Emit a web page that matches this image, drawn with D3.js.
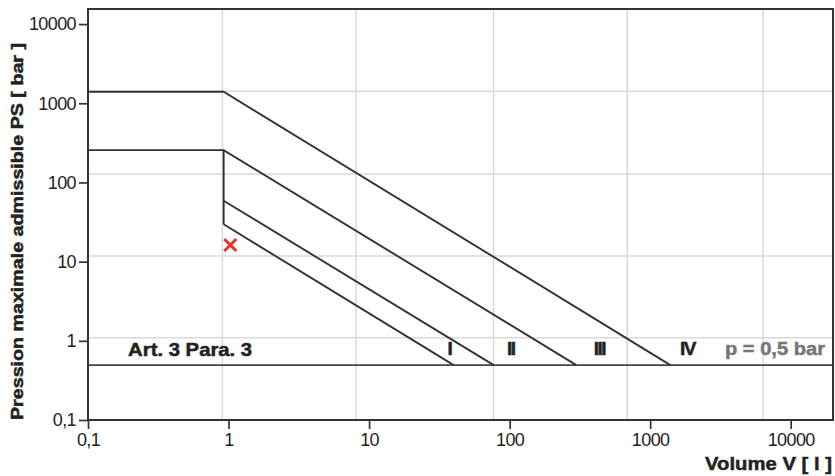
<!DOCTYPE html>
<html>
<head>
<meta charset="utf-8">
<script src="https://cdnjs.cloudflare.com/ajax/libs/d3/7.8.5/d3.min.js"></script>
<style>
  body { margin: 0; background: #fff; }
  svg { display: block; font-family: "Liberation Sans", Arial, sans-serif; }
</style>
</head>
<body>
<svg id="chart"></svg>
<script>
const WIDTH = 835;
const HEIGHT = 476;
const margin = { top: 9, right: 2, bottom: 56, left: 88 };

// tick labels
const xTicks = [0.1, 1, 10, 100, 1000, 10000];
const yTicks = [0.1, 1, 10, 100, 1000, 10000];

// grid lines (they do not sit on the ticks)
const xGrid = [0.904, 8.07, 76.9, 686, 6350];
const yGrid = [1.09, 11.8, 127.6, 1420];

// category limit lines, [volume, pressure] pairs
const lineIV = [[0.1, 1396], [0.923, 1396], [1393, 0.494]];
const lineIII = [[0.1, 256], [0.923, 256], [298.5, 0.494]];
const lineV1 = [[0.923, 256], [0.923, 29.6]];
const lineII = [[0.923, 58.8], [77.1, 0.494]];
const lineI = [[0.923, 29.6], [40, 0.494]];
const pLine = 0.494;

// category labels and their volume position
const catNames = ['I', 'II', 'III', 'IV'];
const catVolumes = [37.3, 102, 436, 1846];

// the red cross
const marker = [1.03, 16.2];

const svg = d3.select('#chart')
    .attr('width', WIDTH)
    .attr('height', HEIGHT);

const x = d3.scaleLog()
    .domain([0.1, 20000])
    .range([margin.left, WIDTH - margin.right]);
const y = d3.scaleLog()
    .domain([0.1, 15500])
    .range([HEIGHT - margin.bottom, margin.top]);

// grid
svg.append('g').selectAll('line')
    .data(xGrid)
    .enter().append('line')
    .attr('x1', d => x(d)).attr('x2', d => x(d))
    .attr('y1', y.range()[0]).attr('y2', y.range()[1])
    .attr('stroke', '#d9d9d9').attr('stroke-width', 1.5);
svg.append('g').selectAll('line')
    .data(yGrid)
    .enter().append('line')
    .attr('x1', x.range()[0]).attr('x2', x.range()[1])
    .attr('y1', d => y(d)).attr('y2', d => y(d))
    .attr('stroke', '#d9d9d9').attr('stroke-width', 1.5);

// p = 0,5 bar line
svg.append('line')
    .attr('x1', x.range()[0]).attr('x2', x.range()[1])
    .attr('y1', y(pLine)).attr('y2', y(pLine))
    .attr('stroke', '#444').attr('stroke-width', 1.7);

// limit lines
const line = d3.line().x(d => x(d[0])).y(d => y(d[1]));
svg.append('g').selectAll('path')
    .data([lineIV, lineIII, lineV1, lineII, lineI])
    .enter().append('path')
    .attr('d', line)
    .attr('fill', 'none')
    .attr('stroke', '#333')
    .attr('stroke-width', 1.9);

// axes
const fmt = d => String(d).replace('.', ',');
const xAxis = svg.append('g')
    .attr('transform', 'translate(0,' + y.range()[0] + ')')
    .call(d3.axisBottom(x).tickValues(xTicks).tickFormat(fmt).tickSize(9).tickPadding(4));
const yAxis = svg.append('g')
    .attr('transform', 'translate(' + x.range()[0] + ',0)')
    .call(d3.axisLeft(y).tickValues(yTicks).tickFormat(fmt).tickSize(9).tickPadding(3));
[xAxis, yAxis].forEach(function(g) {
    g.select('.domain').remove();
    g.selectAll('line').attr('stroke', '#333').attr('stroke-width', 1.7);
    g.selectAll('text')
        .attr('font-size', 18)
        .attr('letter-spacing', -0.6)
        .attr('fill', '#222')
        .attr('font-family', '"Liberation Sans", Arial, sans-serif');
});

// frame
svg.append('rect')
    .attr('x', x.range()[0]).attr('y', y.range()[1])
    .attr('width', x.range()[1] - x.range()[0])
    .attr('height', y.range()[0] - y.range()[1])
    .attr('fill', 'none')
    .attr('stroke', '#333')
    .attr('stroke-width', 2);

// red cross
const cx = x(marker[0]), cy = y(marker[1]), r = 6;
svg.append('path')
    .attr('d', 'M' + (cx - r) + ',' + (cy - r) + 'L' + (cx + r) + ',' + (cy + r) +
               'M' + (cx - r) + ',' + (cy + r) + 'L' + (cx + r) + ',' + (cy - r))
    .attr('stroke', '#e8302c')
    .attr('stroke-width', 3);

// bold label helper, heavy like the original
function boldText(sel, size, color) {
    return sel.attr('font-size', size)
        .attr('font-weight', 'bold')
        .attr('fill', color)
        .attr('stroke', color)
        .attr('stroke-width', 0.5)
        .attr('lengthAdjust', 'spacingAndGlyphs');
}

// category labels
boldText(svg.append('g').selectAll('text')
    .data(catNames)
    .enter().append('text')
    .attr('x', (d, i) => x(catVolumes[i]))
    .attr('y', y(pLine) - 10)
    .attr('text-anchor', 'middle')
    .attr('letter-spacing', -1.5)
    .text(d => d), 19, '#222');

boldText(svg.append('text')
    .attr('x', x(0.193))
    .attr('y', y(pLine) - 9)
    .attr('textLength', 124)
    .text('Art. 3 Para. 3'), 19, '#222');

boldText(svg.append('text')
    .attr('x', x.range()[1] - 108)
    .attr('y', y(pLine) - 10)
    .attr('textLength', 100)
    .text('p = 0,5 bar'), 19, '#777');

// axis titles
boldText(svg.append('text')
    .attr('x', 705)
    .attr('y', 470)
    .attr('textLength', 127)
    .text('Volume V [ l ]'), 19, '#222');

boldText(svg.append('text')
    .attr('transform', 'translate(23,' + 420 + ') rotate(-90)')
    .attr('textLength', 377)
    .text('Pression maximale admissible PS [ bar ]'), 17, '#222');
</script>
</body>
</html>
